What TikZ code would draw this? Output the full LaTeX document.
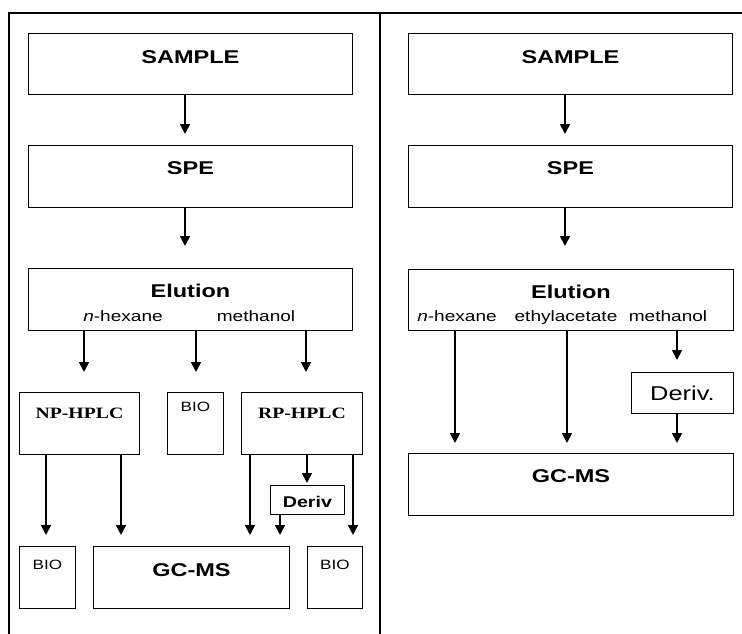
\documentclass[tikz,border=0pt]{standalone}
\usepackage{fontspec}
\setmainfont{Liberation Sans}[FakeStretch=1.27]
\newfontfamily\hplcfont{Liberation Serif}[FakeStretch=1.25]
\usetikzlibrary{arrows.meta}

\tikzset{
  box/.style={draw, line width=0.9pt, inner sep=0pt, anchor=north west},
  big/.style={font=\fontsize{18.5}{20}\selectfont\bfseries},
  hplc/.style={font=\hplcfont\fontsize{15.8}{18}\selectfont\bfseries},
  bio/.style={font=\fontsize{13.5}{15}\selectfont},
  solv/.style={anchor=base, inner sep=0pt, font=\fontsize{15}{17}\selectfont},
  arr/.style={line width=1.8pt, -{Triangle[length=10pt,width=10pt]}},
}

\begin{document}
\begin{tikzpicture}[x=1pt,y=-1pt]
  \useasboundingbox (0,0) rectangle (742,634);
  \draw[line width=1.2pt] (9,634) -- (9,13) -- (742,13);
  \draw[line width=1.2pt] (380,13) -- (380,634);

  \node[box,big,minimum width=324pt,text height=30.5pt,text depth=30.5pt] (sampleL) at (28,33) {SAMPLE};
  \node[box,big,minimum width=324pt,text height=29.5pt,text depth=32.5pt] (speL) at (28,145) {SPE};
  \node[box,big,minimum width=324pt,text height=29pt,text depth=33pt] (elutL) at (28,268) {Elution};
  \node[solv] (hexL) at (123,321) {\textit{n}-hexane};
  \node[solv] (methL) at (256,321) {methanol};
  \node[box,hplc,minimum width=120pt,text height=26.5pt,text depth=35.5pt] (npL) at (19,392) {NP-HPLC};
  \node[box,bio,minimum width=56pt,text height=18.7pt,text depth=43.3pt] (bioM) at (167,392) {BIO};
  \node[box,hplc,minimum width=121pt,text height=26.5pt,text depth=35.5pt] (rpL) at (241,392) {RP-HPLC};
  \node[box,font=\fontsize{15.5}{17}\selectfont\bfseries,minimum width=74pt,text height=22.3pt,text depth=6.7pt] (derivL) at (270,485) {Deriv};
  \node[box,bio,minimum width=56pt,text height=23.3pt,text depth=38.7pt] (bioL) at (19,546) {BIO};
  \node[box,big,minimum width=196pt,text height=30pt,text depth=32pt] (gcmsL) at (93,546) {GC-MS};
  \node[box,bio,minimum width=55pt,text height=23.3pt,text depth=38.7pt] (bioR) at (307,546) {BIO};

  \draw[arr,shorten >=11pt] (sampleL.south -| 185,0) -- (speL.north -| 185,0);
  \draw[arr,shorten >=22pt] (speL.south -| 185,0) -- (elutL.north -| 185,0);
  \draw[arr,shorten >=20pt] (elutL.south -| 84,0) -- (npL.north -| 84,0);
  \draw[arr,shorten >=20pt] (elutL.south -| 196,0) -- (bioM.north -| 196,0);
  \draw[arr,shorten >=20pt] (elutL.south -| 306,0) -- (rpL.north -| 306,0);
  \draw[arr,shorten >=11pt] (npL.south -| 46,0) -- (bioL.north -| 46,0);
  \draw[arr,shorten >=11pt] (npL.south -| 121,0) -- (gcmsL.north -| 121,0);
  \draw[arr,shorten >=11pt] (rpL.south -| 250,0) -- (gcmsL.north -| 250,0);
  \draw[arr,shorten >=2pt] (rpL.south -| 307,0) -- (derivL.north -| 307,0);
  \draw[arr,shorten >=11pt] (derivL.south -| 280,0) -- (gcmsL.north -| 280,0);
  \draw[arr,shorten >=11pt] (rpL.south -| 353,0) -- (bioR.north -| 353,0);

  \node[box,big,minimum width=324pt,text height=30.5pt,text depth=30.5pt] (sampleR) at (408,33) {SAMPLE};
  \node[box,big,minimum width=324pt,text height=29.5pt,text depth=32.5pt] (speR) at (408,145) {SPE};
  \node[box,big,minimum width=325pt,text height=28.7pt,text depth=32.3pt] (elutR) at (408,269) {Elution};
  \node[solv] (hexR) at (457,321) {\textit{n}-hexane};
  \node[solv] (ethR) at (566,321) {ethylacetate};
  \node[solv] (methR) at (668,321) {methanol};
  \node[box,font=\fontsize{20}{22}\selectfont,minimum width=102pt,text height=28pt,text depth=13pt] (derivR) at (631,372) {Deriv.};
  \node[box,big,minimum width=325pt,text height=29.3pt,text depth=32.7pt] (gcmsR) at (408,453) {GC-MS};

  \draw[arr,shorten >=11pt] (sampleR.south -| 565,0) -- (speR.north -| 565,0);
  \draw[arr,shorten >=23pt] (speR.south -| 565,0) -- (elutR.north -| 565,0);
  \draw[arr,shorten >=10pt] (elutR.south -| 455,0) -- (gcmsR.north -| 455,0);
  \draw[arr,shorten >=10pt] (elutR.south -| 567,0) -- (gcmsR.north -| 567,0);
  \draw[arr,shorten >=12pt] (elutR.south -| 677,0) -- (derivR.north -| 677,0);
  \draw[arr,shorten >=10pt] (derivR.south -| 677,0) -- (gcmsR.north -| 677,0);
\end{tikzpicture}
\end{document}
